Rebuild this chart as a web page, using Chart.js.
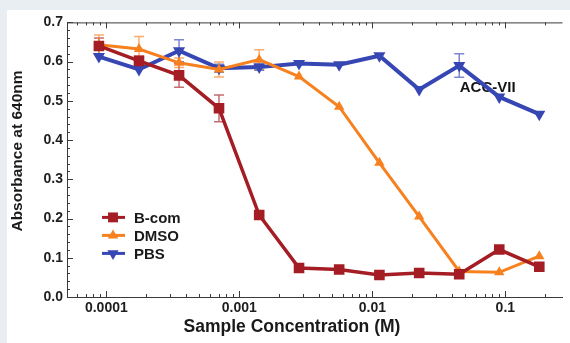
<!DOCTYPE html>
<html>
<head>
<meta charset="utf-8">
<script src="https://cdn.jsdelivr.net/npm/chart.js@4.4.1/dist/chart.umd.min.js"></script>
<style>
  html, body { margin: 0; padding: 0; width: 570px; height: 343px; overflow: hidden; background: #e9eef2; }
  #panel { position: absolute; left: 7px; top: 10px; width: 563px; height: 333px; background: #fff; }
</style>
</head>
<body>
<div id="panel"><canvas id="chart" width="563" height="333"></canvas></div>
<script>
// sample concentrations (M), two-fold dilution series
const concentrations = [0.0000879, 0.000176, 0.000352, 0.000703, 0.00141, 0.00281, 0.00563, 0.0113, 0.0225, 0.045, 0.09, 0.18];

// absorbance at 640nm
const bcom = [0.640, 0.602, 0.565, 0.481, 0.209, 0.074, 0.070, 0.056, 0.061, 0.058, 0.121, 0.077];
const dmso = [0.643, 0.632, 0.597, 0.580, 0.605, 0.562, 0.485, 0.342, 0.205, 0.065, 0.063, 0.104];
const pbs  = [0.613, 0.580, 0.628, 0.583, 0.586, 0.595, 0.592, 0.615, 0.529, 0.590, 0.510, 0.466];

// error bars (null = none shown)
const bcomErr = [0.02, 0.012, 0.03, 0.034, null, null, null, null, null, null, null, null];
const dmsoErr = [0.025, 0.032, 0.012, 0.019, 0.025, null, null, null, null, null, null, null];
const pbsErr  = [null, null, 0.028, 0.01, 0.008, null, null, null, null, 0.03, null, null];

const xTickValues = [0.0001, 0.001, 0.01, 0.1];
const xTickLabels = ['0.0001', '0.001', '0.01', '0.1'];
const yTickValues = [0, 0.1, 0.2, 0.3, 0.4, 0.5, 0.6, 0.7];
const yTickLabels = ['0.0', '0.1', '0.2', '0.3', '0.4', '0.5', '0.6', '0.7'];

const seriesNames = ['B-com', 'DMSO', 'PBS'];
const noteText = 'ACC-VII';

const RED = '#a51d24';
const ORANGE = '#f7811f';
const BLUE = '#3647b3';
const AXIS = '#3a3a3a';
const FONT = '"Liberation Sans", Arial, sans-serif';

Chart.defaults.font.family = FONT;

function pts(ys) {
  return concentrations.map((c, i) => ({ x: c, y: ys[i] }));
}

function marker(ctx, style, x, y, r, color) {
  ctx.fillStyle = color;
  ctx.beginPath();
  if (style === 'rect') {
    const s = r * Math.SQRT1_2;
    ctx.rect(x - s, y - s, s * 2, s * 2);
  } else if (style === 'down') {
    ctx.moveTo(x - r * 0.87, y - r * 0.5);
    ctx.lineTo(x + r * 0.87, y - r * 0.5);
    ctx.lineTo(x, y + r);
  } else {
    ctx.moveTo(x - r * 0.87, y + r * 0.5);
    ctx.lineTo(x + r * 0.87, y + r * 0.5);
    ctx.lineTo(x, y - r);
  }
  ctx.closePath();
  ctx.fill();
}

const decor = {
  id: 'decor',
  beforeDatasetsDraw(chart) {
    const { ctx, chartArea: a, scales: { x, y } } = chart;
    ctx.save();

    // annotation under the lines
    ctx.font = 'bold 15px ' + FONT;
    ctx.fillStyle = '#141414';
    ctx.textBaseline = 'middle';
    ctx.textAlign = 'left';
    ctx.fillText(noteText, x.getPixelForValue(0.0454), y.getPixelForValue(0.532));

    // top frame line
    ctx.strokeStyle = AXIS;
    ctx.lineWidth = 1;
    ctx.beginPath();
    ctx.moveTo(a.left, a.top + 0.5);
    ctx.lineTo(a.right, a.top + 0.5);
    ctx.stroke();

    // inward log ticks, bottom and top
    ctx.beginPath();
    for (let k = -5; k <= 0; k++) {
      for (let m = 1; m <= 9; m++) {
        const v = m * Math.pow(10, k);
        if (v < x.min || v > x.max) continue;
        const px = Math.round(x.getPixelForValue(v)) + 0.5;
        const len = m === 1 ? 6 : 3;
        ctx.moveTo(px, a.bottom);
        ctx.lineTo(px, a.bottom - len);
        ctx.moveTo(px, a.top);
        ctx.lineTo(px, a.top + len);
      }
    }
    // inward y ticks
    for (let i = 0; i <= 35; i++) {
      const v = i * 0.02;
      const py = Math.round(y.getPixelForValue(v)) + 0.5;
      const len = i % 5 === 0 ? 6 : 3;
      ctx.moveTo(a.left, py);
      ctx.lineTo(a.left + len, py);
    }
    ctx.stroke();

    // error bars
    const groups = [[bcom, bcomErr, RED], [dmso, dmsoErr, ORANGE], [pbs, pbsErr, BLUE]];
    ctx.globalAlpha = 0.65;
    ctx.lineWidth = 1.5;
    groups.forEach(([vals, errs, color]) => {
      ctx.strokeStyle = color;
      ctx.beginPath();
      errs.forEach((e, i) => {
        if (e == null) return;
        const px = x.getPixelForValue(concentrations[i]);
        const top = y.getPixelForValue(vals[i] + e);
        const bot = y.getPixelForValue(vals[i] - e);
        ctx.moveTo(px, top); ctx.lineTo(px, bot);
        ctx.moveTo(px - 5, top); ctx.lineTo(px + 5, top);
        ctx.moveTo(px - 5, bot); ctx.lineTo(px + 5, bot);
      });
      ctx.stroke();
    });
    ctx.restore();
  },
  afterDraw(chart) {
    const { ctx, chartArea: a } = chart;
    ctx.save();

    // axis titles
    ctx.fillStyle = '#1a1a1a';
    ctx.textAlign = 'center';
    ctx.textBaseline = 'middle';
    ctx.font = 'bold 17.5px ' + FONT;
    ctx.fillText('Sample Concentration (M)', 285, 317);
    ctx.translate(11, 141);
    ctx.rotate(-Math.PI / 2);
    ctx.font = 'bold 15.5px ' + FONT;
    ctx.fillText('Absorbance at 640nm', 0, 0);
    ctx.setTransform(1, 0, 0, 1, 0, 0);

    // legend
    const styles = ['rect', 'up', 'down'];
    const colors = [RED, ORANGE, BLUE];
    const sizes = [7, 6, 6.5];
    ctx.font = 'bold 15px ' + FONT;
    ctx.textAlign = 'left';
    seriesNames.forEach((name, i) => {
      const ly = a.top + 195 + i * 18;
      const lx = a.left + 35;
      ctx.strokeStyle = colors[i];
      ctx.lineWidth = 3;
      ctx.beginPath();
      ctx.moveTo(lx, ly);
      ctx.lineTo(lx + 23, ly);
      ctx.stroke();
      marker(ctx, styles[i], lx + 11, ly, sizes[i], colors[i]);
      ctx.fillStyle = '#1a1a1a';
      ctx.fillText(name, lx + 32, ly + 1);
    });
    ctx.restore();
  }
};

new Chart(document.getElementById('chart'), {
  type: 'line',
  data: {
    datasets: [
      {
        label: seriesNames[0], data: pts(bcom),
        borderColor: RED, backgroundColor: RED, borderWidth: 3.5,
        pointStyle: 'rect', pointRadius: 7.5, pointBorderWidth: 0, pointBackgroundColor: RED
      },
      {
        label: seriesNames[1], data: pts(dmso),
        borderColor: ORANGE, backgroundColor: ORANGE, borderWidth: 3,
        pointStyle: 'triangle', pointRadius: 6, pointBorderWidth: 0, pointBackgroundColor: ORANGE
      },
      {
        label: seriesNames[2], data: pts(pbs),
        borderColor: BLUE, backgroundColor: BLUE, borderWidth: 4,
        pointStyle: 'triangle', rotation: 180, pointRadius: 7, pointBorderWidth: 0, pointBackgroundColor: BLUE
      }
    ]
  },
  options: {
    responsive: false,
    animation: false,
    layout: { padding: { top: 9, right: 0, bottom: 0, left: 0 } },
    plugins: { legend: { display: false }, tooltip: { enabled: false } },
    elements: { line: { tension: 0 } },
    scales: {
      x: {
        type: 'logarithmic',
        bounds: 'data',
        min: 0.0000506,
        max: 0.269,
        grid: { display: false, drawTicks: false },
        border: { display: true, color: AXIS, width: 1 },
        afterBuildTicks: s => { s.ticks = xTickValues.map(v => ({ value: v })); },
        afterFit: s => { s.height = 46; },
        ticks: {
          autoSkip: false, maxRotation: 0, padding: 3,
          color: '#1e1e1e', font: { size: 14, weight: 'bold' },
          callback: v => xTickLabels[xTickValues.indexOf(v)]
        }
      },
      y: {
        min: 0,
        max: 0.7,
        grid: { display: false, drawTicks: false },
        border: { display: true, color: AXIS, width: 1 },
        afterBuildTicks: s => { s.ticks = yTickValues.map(v => ({ value: v })); },
        afterFit: s => { s.width = 60; },
        ticks: {
          padding: 4,
          color: '#1e1e1e', font: { size: 14, weight: 'bold' },
          callback: v => yTickLabels[yTickValues.indexOf(v)]
        }
      }
    }
  },
  plugins: [decor]
});
</script>
</body>
</html>
